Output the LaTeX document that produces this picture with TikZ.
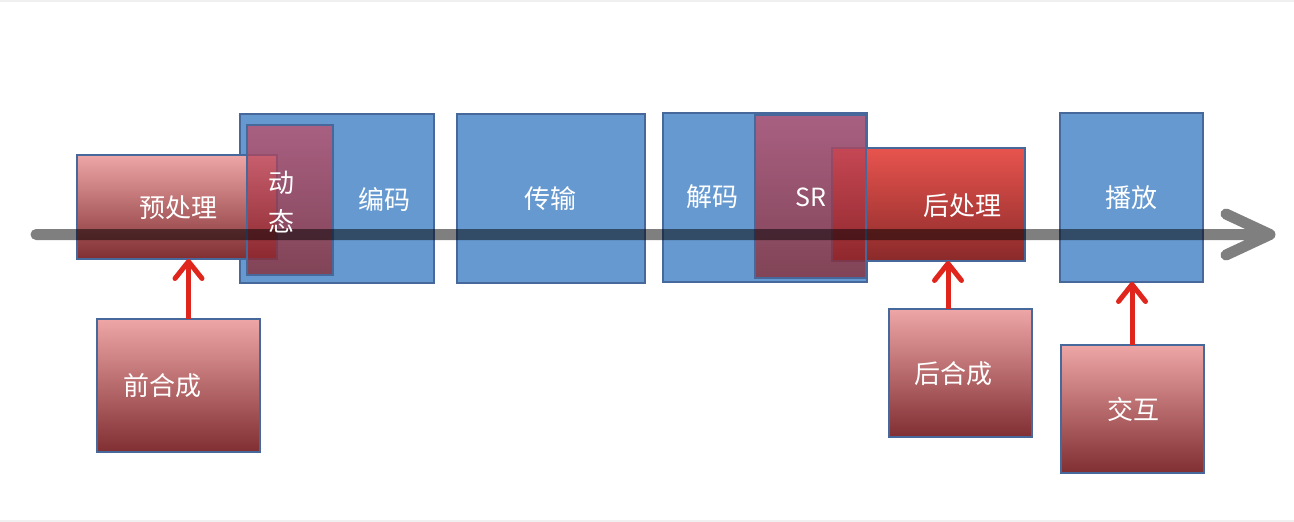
\documentclass[tikz,border=0pt]{standalone}
\usepackage{fontspec}
\newfontfamily\cjk{Noto Sans CJK SC}
\usetikzlibrary{arrows.meta,calc}
\definecolor{boxblue}{RGB}{102,153,208}
\definecolor{boxedge}{RGB}{70,104,155}
\definecolor{pinktop}{RGB}{238,166,166}
\definecolor{redbot}{RGB}{128,46,50}
\definecolor{posttop}{RGB}{232,84,78}
\definecolor{postbot}{RGB}{138,42,42}
\definecolor{dyntop}{RGB}{195,75,100}
\definecolor{dynbot}{RGB}{140,35,40}
\definecolor{arrowred}{RGB}{224,38,28}
\definecolor{edgegray}{RGB}{240,240,240}
\tikzset{
  boxbase/.style={rectangle, draw=boxedge, line width=2pt, inner sep=0pt, outer sep=0pt},
  bluebox/.style={boxbase, fill=boxblue},
  redbox/.style={boxbase, top color=pinktop, bottom color=redbot},
  postbox/.style={boxbase, top color=posttop, bottom color=postbot},
  overbox/.style={boxbase, top color=dyntop, bottom color=dynbot, fill opacity=0.72},
  lbl/.style={text=white, font=\cjk\fontsize{26}{30}\selectfont, inner sep=0pt},
  srlbl/.style={text=white, font=\cjk\fontsize{25}{30}\selectfont, inner sep=0pt},
  timeline/.style={line width=11pt, black, opacity=0.5, line join=round, line cap=round},
  redarrow/.style={line width=5pt, arrowred, -{Straight Barb[length=17pt, width=27pt, round]}},
}
\begin{document}
\begin{tikzpicture}[x=1pt, y=-1pt]
\useasboundingbox (0,0) rectangle (1294,522);
\fill[edgegray] (0,0) rectangle (1294,1.5);
\fill[edgegray] (0,519.5) rectangle (1294,522);
% blue boxes
\node[bluebox, minimum width=194pt, minimum height=169pt] (enc) at (337,198.5) {};
\node[bluebox, minimum width=188pt, minimum height=169pt] (trans) at (551,198.5) {};
\node[bluebox, minimum width=204pt, minimum height=169pt] (dec) at (765,197.5) {};
\node[bluebox, minimum width=143pt, minimum height=169pt] (play) at (1131.5,197.5) {};
% red boxes on the line
\node[redbox, minimum width=200pt, minimum height=104pt] (pre) at (177,207) {};
\node[overbox, minimum width=86pt, minimum height=150pt] (dyn) at (290,200) {};
\node[postbox, minimum width=193pt, minimum height=113pt] (post) at (928.5,204.5) {};
\node[overbox, minimum width=111pt, minimum height=163pt] (sr) at (810.5,196.5) {};
% lower boxes
\node[redbox, minimum width=163pt, minimum height=133pt] (prec) at (178.5,385.5) {};
\node[redbox, minimum width=143pt, minimum height=128pt] (postc) at (960.5,373) {};
\node[redbox, minimum width=143pt, minimum height=128pt] (inter) at (1132.5,409) {};
% timeline
\coordinate (tstart) at (36,234.5);
\coordinate (tend) at (1266,234.5);
\coordinate (tup) at (1226,214);
\coordinate (ttip) at (1270,234.5);
\coordinate (tdown) at (1226,255);
\draw[timeline] (tstart) -- (tend) (tup) -- (ttip) -- (tdown);
% labels
\node[lbl] (tpre) at (178,208) {预处理};
\node[lbl] (tdyn1) at (281,183) {动};
\node[lbl] (tdyn2) at (281,221) {态};
\node[lbl] (tenc) at (384,199) {编码};
\node[lbl] (ttrans) at (550,199) {传输};
\node[lbl] (tdec) at (712,197) {解码};
\node[srlbl] (tsr) at (811,197) {SR};
\node[lbl] (tpost) at (962,206) {后处理};
\node[lbl] (tplay) at (1131,198) {播放};
\node[lbl] (tprec) at (162,386) {前合成};
\node[lbl] (tpostc) at (953,374) {后合成};
\node[lbl] (tinter) at (1133,410) {交互};
% red arrows
\draw[redarrow] ([xshift=10pt]prec.north) -- ([xshift=10pt]prec.north |- pre.south);
\draw[redarrow] ([xshift=-12.5pt]postc.north) -- ([xshift=-12.5pt]postc.north |- post.south);
\draw[redarrow] ([xshift=-0.5pt]inter.north) -- ([xshift=-0.5pt]inter.north |- play.south);
\end{tikzpicture}
\end{document}
